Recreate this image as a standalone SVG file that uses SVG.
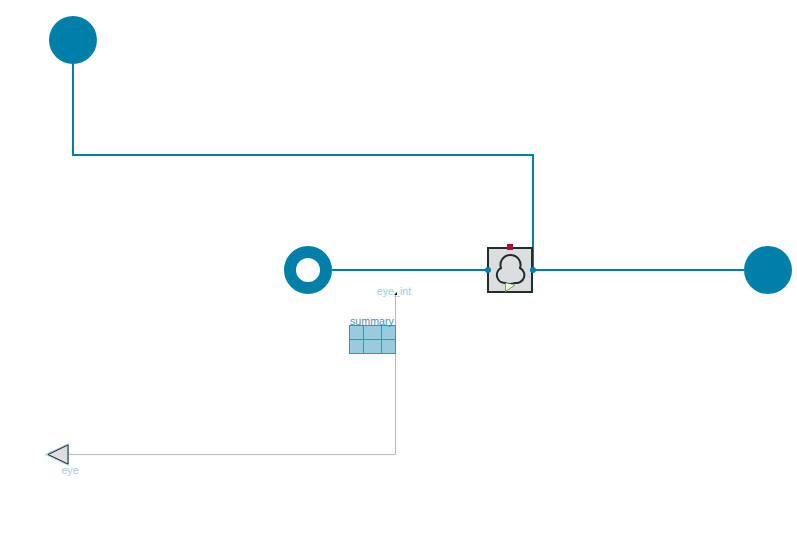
<svg xmlns="http://www.w3.org/2000/svg" width="797" height="542" viewBox="0 0 797 542">
<style>
.bus{fill:none;stroke:#0080a8;stroke-width:2}
.sig{fill:none;stroke:#b8b8b8;stroke-width:1}
.t{font-family:"Liberation Sans",Arial,sans-serif;font-size:10.700px;text-anchor:middle}
.lt{fill:#9ccfe0}
.cell{fill:#99cbdd;stroke:#3f93ab;stroke-width:1}
</style>
<rect width="797" height="542" fill="#fff"/>
<g id="connectors">
<path class="bus" d="M73 64V155H533V270"/>
<path class="bus" d="M332 270H488"/>
<path class="bus" d="M533 270H744"/>
<path class="sig" d="M395.500 295V454.500H68"/>
</g>
<g id="source1"><circle cx="73" cy="40" r="24" fill="#0080a8"/></g>
<g id="source2"><circle cx="308" cy="270" r="18" fill="#fff" stroke="#0080a8" stroke-width="12"/></g>
<g id="sink"><circle cx="768" cy="270" r="24" fill="#0080a8"/></g>
<g id="component">
<rect x="488" y="248" width="44" height="44" fill="#dcddde" stroke="#222b30" stroke-width="2"/>
<rect x="507" y="244" width="6" height="6" fill="#a5113a"/>
<path d="M505 283A8 8 0 0 1 501 268A10 10 0 1 1 520 268A8 8 0 0 1 515 283Q510 285 505 283Z" fill="none" stroke="#222b30" stroke-width="2"/>
<path d="M505.500 283V291.500L515 285" fill="#eef5e0" stroke="#7d9c50" stroke-width="1"/>
<circle cx="488" cy="270" r="3" fill="#0080a8"/>
<circle cx="533" cy="270" r="3" fill="#0080a8"/>
</g>
<g id="eye_int">
<path d="M394 295L397 292V295Z" fill="#111"/>
<text class="t lt" x="394" y="295">eye_int</text>
</g>
<g id="summary">
<rect class="cell" x="349.500" y="325.500" width="46" height="28"/>
<path class="cell" d="M349.500 339.500H395.500M363.500 325.500V353.500M381.500 325.500V353.500"/>
<text class="t" x="372" y="325" fill="#4f90a6">summary</text>
</g>
<g id="eye">
<path d="M47 454.500L68 444.500V464.500Z" fill="#dcddde" stroke="#9ccfe0" stroke-width="2"/>
<path d="M48 454.500L68 445V464Z" fill="#dcddde" stroke="#222b30" stroke-width="1"/>
<text class="t lt" x="70" y="474">eye</text>
</g>
</svg>
